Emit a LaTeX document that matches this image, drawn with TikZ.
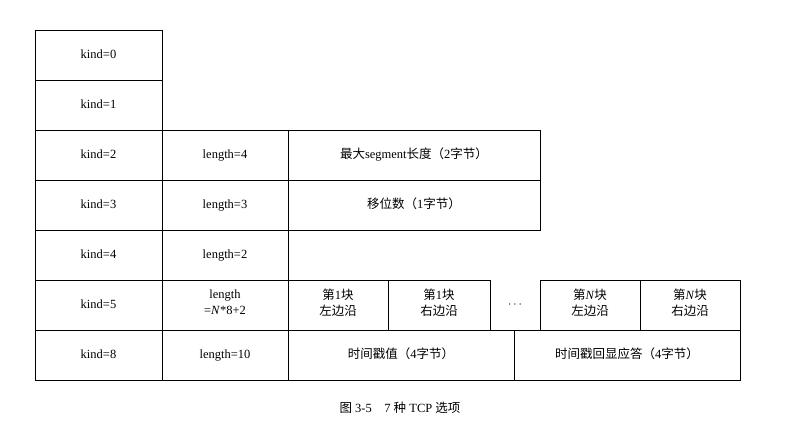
\documentclass[tikz,border=0pt]{standalone}
\usepackage{fontspec}
\setmainfont{Liberation Serif}
\newfontfamily\cjk{Noto Sans CJK SC}
\usetikzlibrary{positioning}
\begin{document}
\begin{tikzpicture}[x=1pt,y=-1pt,
    cell/.style={draw, line width=0.9pt, inner sep=0pt, outer sep=0pt, anchor=north west,
        minimum height=50pt, align=center, font=\fontsize{12.5}{16}\selectfont,
        execute at begin node=\strut, execute at end node=\strut},
    kindcell/.style={cell, minimum width=127pt},
    lencell/.style={cell, minimum width=126pt},
    wide/.style={cell, minimum width=226pt}
]
\useasboundingbox (0,0) rectangle (800,431);
% kind column
\node (K0) [kindcell] at (35,30) {kind=0};
\node (K1) [kindcell, below=0pt of K0] {kind=1};
\node (K2) [kindcell, below=0pt of K1] {kind=2};
\node (K3) [kindcell, below=0pt of K2] {kind=3};
\node (K4) [kindcell, below=0pt of K3] {kind=4};
\node (K5) [kindcell, below=0pt of K4] {kind=5};
\node (K8) [kindcell, below=0pt of K5] {kind=8};
% length column
\node (L2) [lencell, right=0pt of K2] {length=4};
\node (L3) [lencell, right=0pt of K3] {length=3};
\node (L4) [lencell, right=0pt of K4] {length=2};
\node (L5) [lencell, right=0pt of K5] {length\\=\textit{N}*8+2};
\node (L8) [lencell, right=0pt of K8] {length=10};
% data
\node (D2) [cell, minimum width=252pt, right=0pt of L2] {{\cjk 最大}segment{\cjk 长度（}2{\cjk 字节）}};
\node (D3) [cell, minimum width=252pt, right=0pt of L3] {{\cjk 移位数（}1{\cjk 字节）}};
\node (A1) [cell, minimum width=100pt, right=0pt of L5] {{\cjk 第}1{\cjk 块}\\{\cjk 左边沿}};
\node (B1) [cell, minimum width=102pt, right=0pt of A1] {{\cjk 第}1{\cjk 块}\\{\cjk 右边沿}};
\node (dots) [right=0pt of B1, minimum width=50pt, inner sep=0pt, outer sep=0pt,
    font=\fontsize{12.5}{16}\selectfont] {$\cdots$};
\node (AN) [cell, minimum width=100pt, right=0pt of dots] {{\cjk 第}\textit{N}{\cjk 块}\\{\cjk 左边沿}};
\node (BN) [cell, minimum width=100pt, right=0pt of AN] {{\cjk 第}\textit{N}{\cjk 块}\\{\cjk 右边沿}};
\node (T1) [wide, right=0pt of L8] {{\cjk 时间戳值（}4{\cjk 字节）}};
\node (T2) [wide, right=0pt of T1] {{\cjk 时间戳回显应答（}4{\cjk 字节）}};
% caption
\node (cap) at (400,408) {\fontsize{12.5}{15}\selectfont{\cjk 图} 3-5\quad 7 {\cjk 种} TCP {\cjk 选项}};
\end{tikzpicture}
\end{document}
